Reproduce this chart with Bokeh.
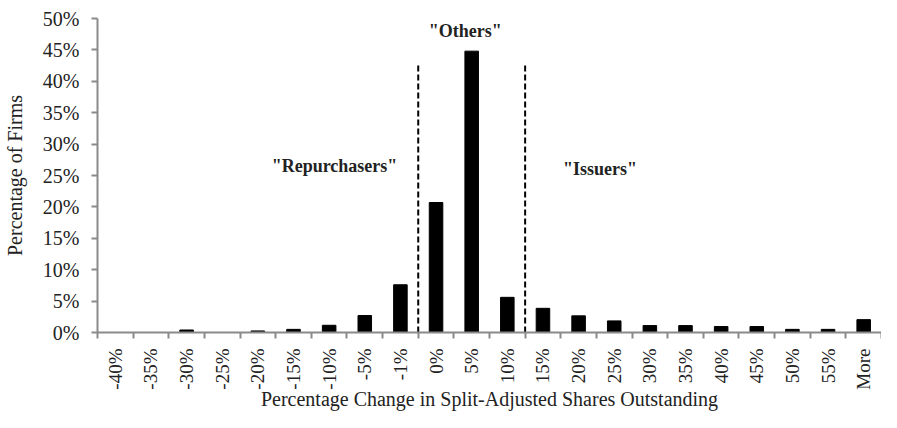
import numpy as np
from bokeh.plotting import figure
from bokeh.models import (Range1d, FixedTicker, PrintfTickFormatter,
                          CustomJSTickFormatter, ColumnDataSource)
from bokeh.core.properties import value
from bokeh.embed import file_html
from bokeh.resources import INLINE

# ---- data ----
categories = ["-40%", "-35%", "-30%", "-25%", "-20%", "-15%", "-10%", "-5%", "-1%",
              "0%", "5%", "10%", "15%", "20%", "25%", "30%", "35%", "40%", "45%",
              "50%", "55%", "More"]
pct_firms = [0.0, 0.0, 0.4, 0.0, 0.25, 0.5, 1.15, 2.7, 7.6,
             20.7, 44.8, 5.6, 3.85, 2.65, 1.85, 1.1, 1.1, 0.95, 0.95,
             0.5, 0.5, 2.05]
y_ticks = [0, 5, 10, 15, 20, 25, 30, 35, 40, 45, 50]
group_labels = ['"Repurchasers"', '"Others"', '"Issuers"']
group_label_x = [6.65, 10.32, 14.1]      # in category units
group_label_y = [26.5, 48.0, 26.0]       # percent
divider_after = ["-1%", "10%"]           # dashed line after these categories
divider_top = 42.5
x_title = "Percentage Change in Split-Adjusted Shares Outstanding"
y_title = "Percentage of Firms"

FONT = "Liberation Serif"
AXIS_GRAY = "#8a8a8a"
TEXT = "#222222"

n = len(categories)
centers = list(np.arange(n) + 0.5)
bounds = list(range(n + 1))
div_x = [categories.index(c) + 1 for c in divider_after]

p = figure(width=881, height=412, x_range=Range1d(0, n), y_range=Range1d(0, 50),
           output_backend="svg", toolbar_location=None,
           min_border_top=18, min_border_right=0, min_border_left=0, min_border_bottom=0)
p.outline_line_color = None
p.grid.visible = False
p.background_fill_color = "white"
p.border_fill_color = "white"

src = ColumnDataSource(dict(x=centers, top=pct_firms))
p.vbar(x="x", top="top", width=0.38, bottom=0, source=src,
       fill_color="black", line_color="black")

p.segment(x0=div_x, y0=[0] * len(div_x), x1=div_x, y1=[divider_top] * len(div_x),
          line_color="black", line_width=2, line_dash="6 3")

p.text(x=group_label_x, y=group_label_y, text=group_labels,
       text_font=value(FONT), text_font_style="bold", text_font_size="18px",
       text_align="center", text_baseline="middle", text_color=TEXT)

# x axis
xa = p.xaxis[0]
xa.ticker = FixedTicker(ticks=centers, minor_ticks=bounds)
xa.formatter = CustomJSTickFormatter(args=dict(labels=categories), code="""
const i = Math.floor(tick);
return (i >= 0 && i < labels.length) ? labels[i] : '';
""")
xa.major_label_orientation = np.pi / 2
xa.major_tick_line_color = None
xa.major_tick_out = 6
xa.major_tick_in = 0
xa.minor_tick_out = 6
xa.minor_tick_in = 0
xa.minor_tick_line_color = AXIS_GRAY
xa.minor_tick_line_width = 2
xa.axis_line_color = AXIS_GRAY
xa.axis_line_width = 2
xa.major_label_standoff = 10
xa.major_label_text_font = FONT
xa.major_label_text_font_size = "19px"
xa.major_label_text_color = TEXT
xa.axis_label = x_title
xa.axis_label_text_font = FONT
xa.axis_label_text_font_size = "20px"
xa.axis_label_text_font_style = "normal"
xa.axis_label_text_color = TEXT
xa.axis_label_standoff = -5

# y axis
ya = p.yaxis[0]
ya.ticker = FixedTicker(ticks=y_ticks)
ya.formatter = PrintfTickFormatter(format="%d%%")
ya.major_tick_out = 6
ya.major_tick_in = 0
ya.minor_tick_line_color = None
ya.major_tick_line_color = AXIS_GRAY
ya.major_tick_line_width = 2
ya.axis_line_color = AXIS_GRAY
ya.axis_line_width = 2
ya.major_label_standoff = 12
ya.major_label_text_font = FONT
ya.major_label_text_font_size = "20px"
ya.major_label_text_color = TEXT
ya.axis_label = y_title
ya.axis_label_text_font = FONT
ya.axis_label_text_font_size = "20px"
ya.axis_label_text_font_style = "normal"
ya.axis_label_text_color = TEXT
ya.axis_label_standoff = 14

open("out.html", "w").write(file_html(p, INLINE))
